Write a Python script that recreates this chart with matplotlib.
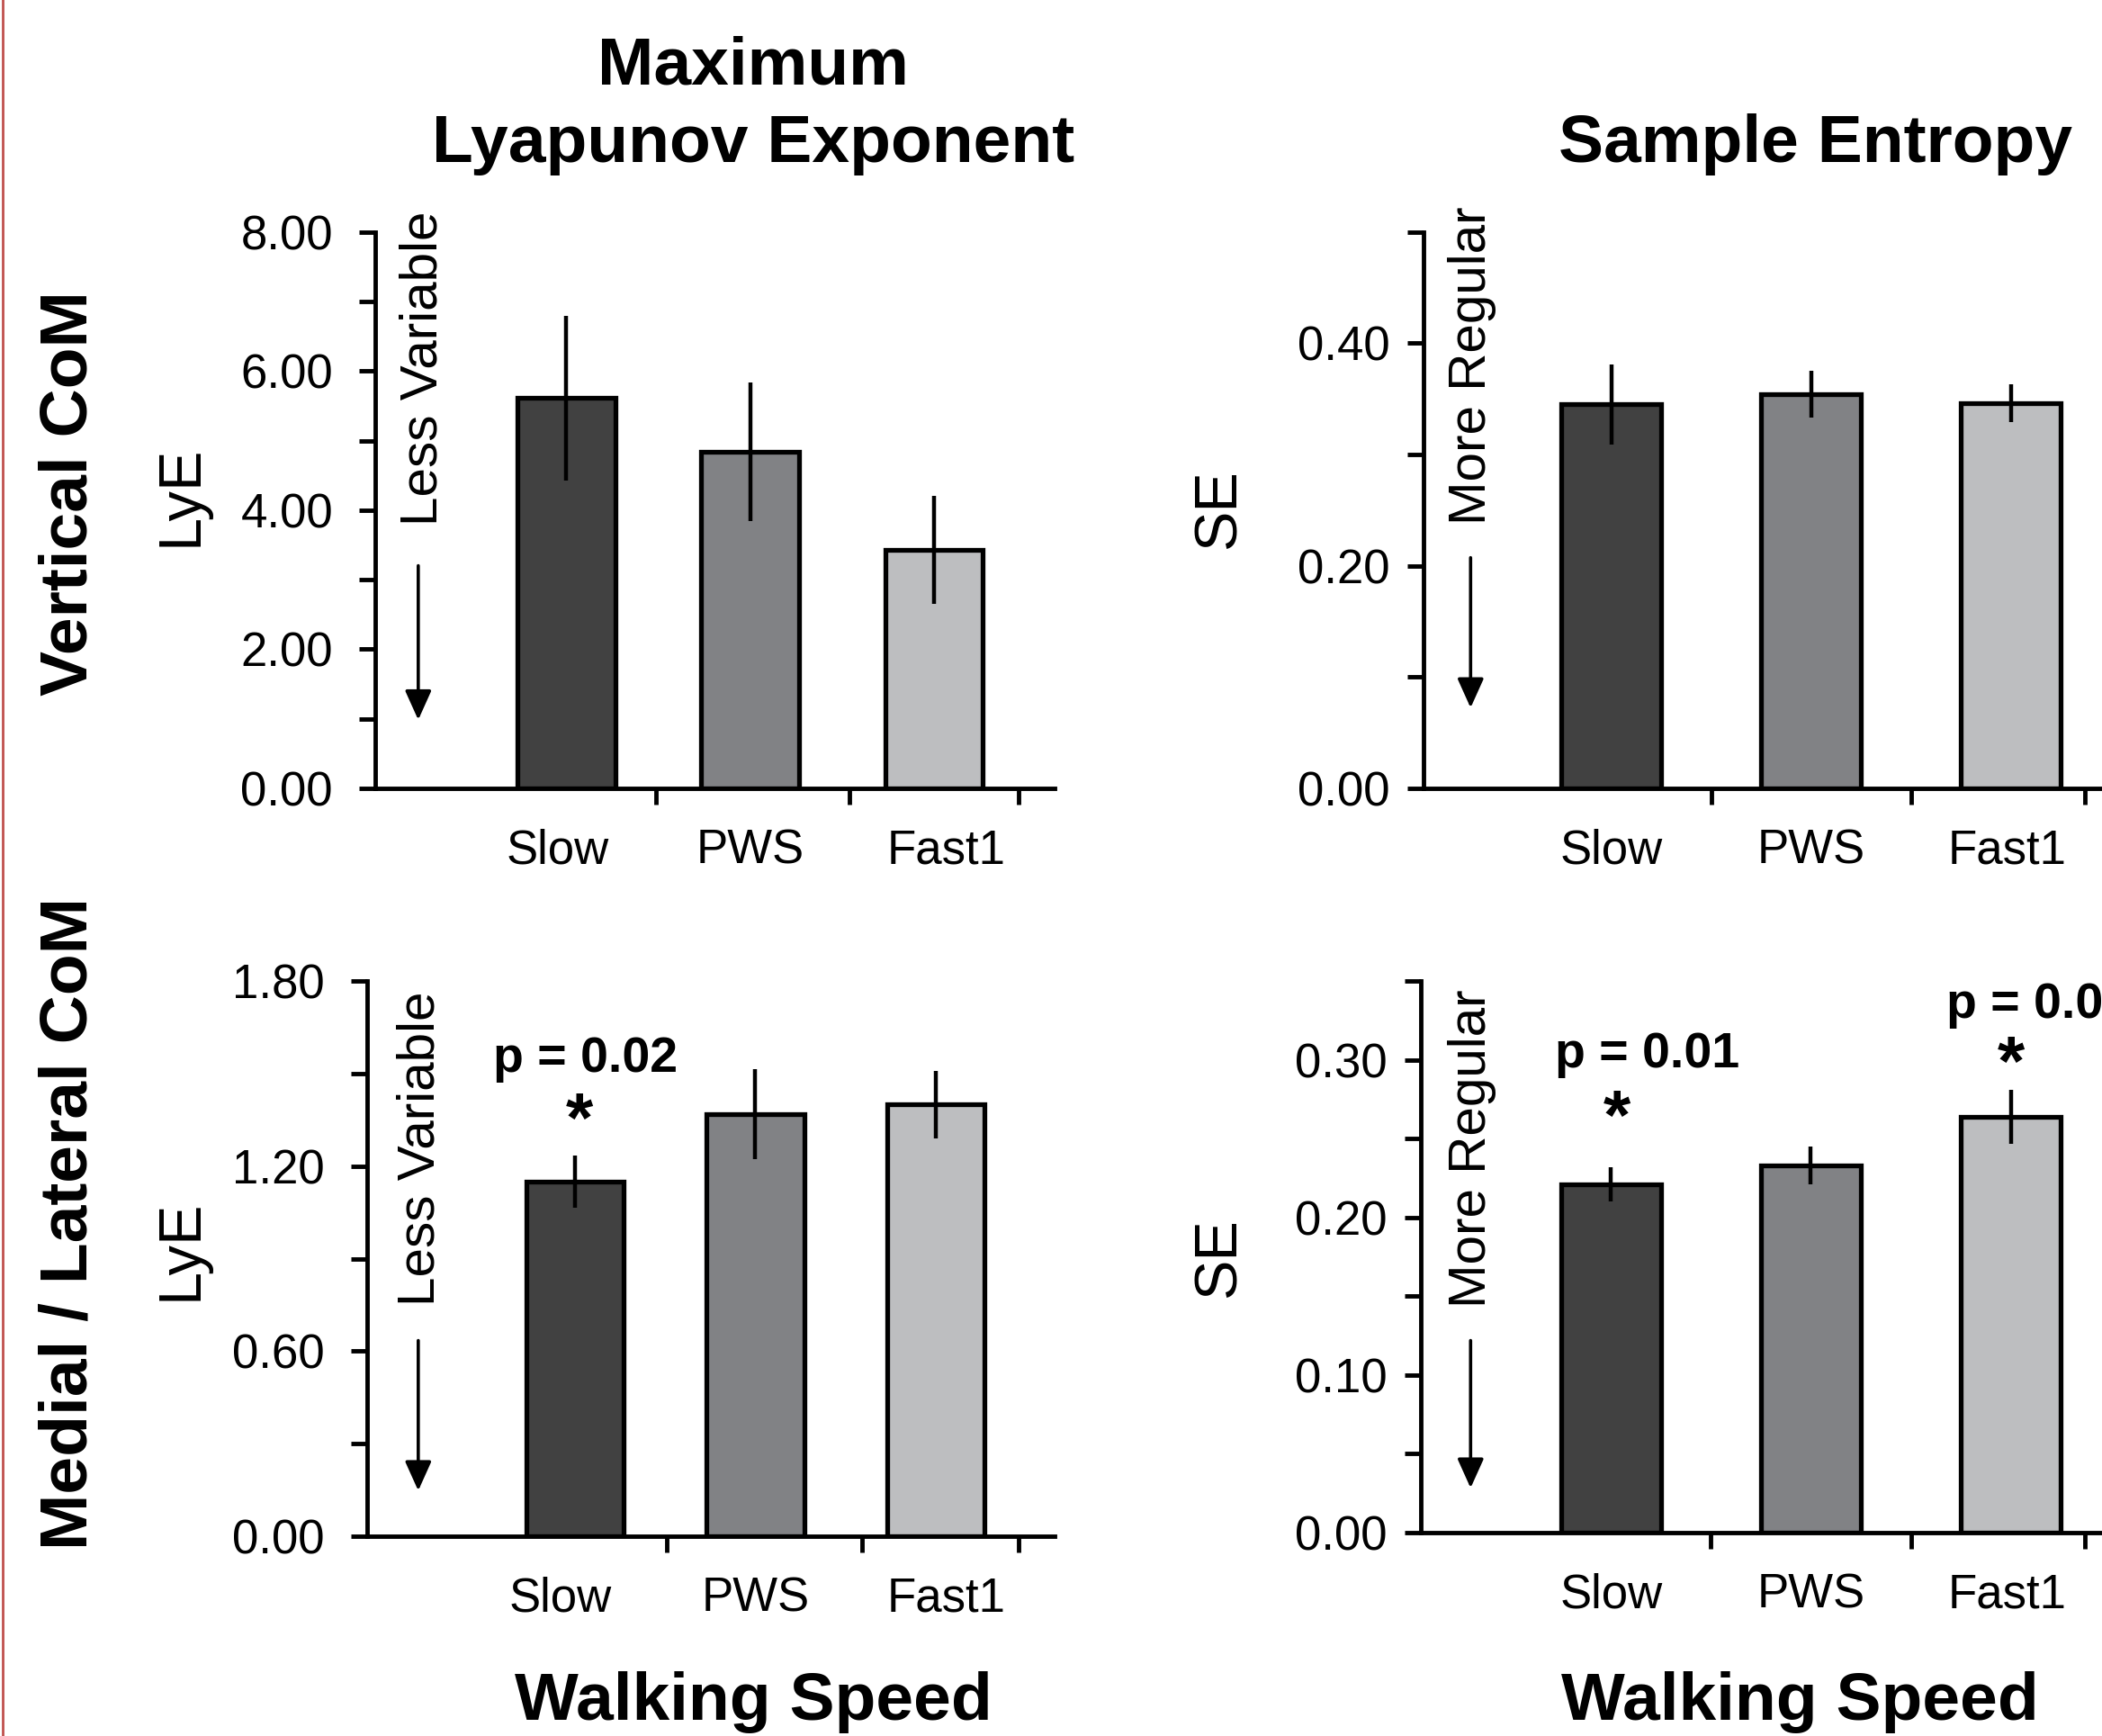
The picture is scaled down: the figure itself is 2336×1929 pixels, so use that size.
import matplotlib
matplotlib.use("Agg")
import matplotlib.pyplot as plt
from matplotlib.lines import Line2D
from matplotlib.patches import FancyArrowPatch
import numpy as np

plt.rcParams['font.family'] = ['Liberation Sans', 'DejaVu Sans']

speeds = ['Slow', 'PWS', 'Fast1']
bar_colors = ['#414141', '#818285', '#bdbec0']

# vertical CoM
lye_vert = [5.61, 4.84, 3.43]
lye_vert_err = [1.18, 1.00, 0.78]
se_vert = [0.345, 0.354, 0.346]
se_vert_err = [0.036, 0.021, 0.017]

# medial / lateral CoM
lye_ml = [1.15, 1.37, 1.40]
lye_ml_err = [0.085, 0.146, 0.11]
se_ml = [0.221, 0.233, 0.264]
se_ml_err = [0.011, 0.012, 0.017]

W, H = 1568.0, 1295.0   # layout measured on the shrunk reference


def fx(x):
    return x / W


def fy(y):
    return 1 - y / H


fig = plt.figure(figsize=(23.36, 19.29), dpi=100)


def panel(left, bottom, top, xlim, vals, errs, ylim, major, minor,
          edges, width, label_pos, right=787, ypad=21):
    x0, x1 = fx(left), fx(right)
    ax = fig.add_axes([x0, fy(bottom), x1 - x0, fy(top) - fy(bottom)])
    x = np.arange(len(vals))
    ax.bar(x, vals, width=width, color=bar_colors, edgecolor='black',
           linewidth=3.8, zorder=2)
    ax.errorbar(x, vals, yerr=errs, fmt='none', ecolor='black',
                elinewidth=3.2, capsize=0, zorder=3)
    ax.set_xlim(*xlim)
    ax.set_ylim(*ylim)
    ax.set_yticks(major)
    ax.set_yticklabels(['{:.2f}'.format(v) for v in major])
    ax.set_yticks(minor, minor=True)
    ax.set_xticks(label_pos)
    ax.set_xticklabels(speeds)
    ax.set_xticks(edges, minor=True)
    for s in ['top', 'right']:
        ax.spines[s].set_visible(False)
    for s in ['left', 'bottom']:
        ax.spines[s].set_linewidth(3.5)
    ax.tick_params(axis='y', which='both', direction='out', length=13,
                   width=3.5, labelsize=38, pad=ypad)
    ax.tick_params(axis='x', which='major', length=0, labelsize=38, pad=32)
    ax.tick_params(axis='x', which='minor', direction='out', length=13,
                   width=3.5)
    ax.patch.set_visible(False)
    return ax


panel(280, 588, 173, (-1.04, 2.66), lye_vert, lye_vert_err, (0, 8),
      [0, 2, 4, 6, 8], [1, 3, 5, 7], [0.49, 1.54, 2.46], 0.53,
      [-0.05, 1.0, 2.07])
panel(274, 1146, 732, (-1.15, 2.66), lye_ml, lye_ml_err, (0, 1.8),
      [0, 0.6, 1.2, 1.8], [0.3, 0.9, 1.5], [0.51, 1.59, 2.46], 0.54,
      [-0.08, 1.0, 2.06])
panel(1062, 588, 173, (-0.94, 2.55), se_vert, se_vert_err, (0, 0.5),
      [0, 0.2, 0.4], [0.1, 0.3, 0.5], [0.5, 1.5, 2.37], 0.5,
      [0.0, 1.0, 1.98], right=1582, ypad=14)
panel(1060, 1143, 732, (-0.95, 2.55), se_ml, se_ml_err, (0, 0.35),
      [0, 0.1, 0.2, 0.3], [0.05, 0.15, 0.25, 0.35], [0.5, 1.5, 2.37], 0.5,
      [0.0, 1.0, 1.98], right=1582, ypad=14)

# headings
bold = dict(fontsize=54, fontweight='bold', ha='center', va='center')
fig.text(fx(562), fy(50), 'Maximum', **bold)
fig.text(fx(562), fy(108), 'Lyapunov Exponent', **bold)
fig.text(fx(1354), fy(108), 'Sample Entropy', **bold)
fig.text(fx(52), fy(368), 'Vertical CoM', rotation=90, **bold)
fig.text(fx(52), fy(913), 'Medial / Lateral CoM', rotation=90, **bold)
fig.text(fx(562), fy(1270), 'Walking Speed', **bold)
fig.text(fx(1343), fy(1270), 'Walking Speed', **bold)

# axis labels
lab = dict(fontsize=48, ha='center', va='center', rotation=90)
fig.text(fx(135), fy(370), 'LyE', **lab)
fig.text(fx(135), fy(932), 'LyE', **lab)
fig.text(fx(910), fy(380), 'SE', **lab)
fig.text(fx(910), fy(938), 'SE', **lab)

# direction notes with arrows
note = dict(fontsize=42, ha='center', va='center', rotation=90)
fig.text(fx(316), fy(275), 'Less Variable', **note)
fig.text(fx(314), fy(857), 'Less Variable', **note)
fig.text(fx(1098), fy(273), 'More Regular', **note)
fig.text(fx(1098), fy(857), 'More Regular', **note)
for xa, ya, yb in [(312, 422, 537), (312, 1000, 1112),
                   (1097, 416, 528), (1097, 1000, 1110)]:
    fig.add_artist(FancyArrowPatch(
        (fx(xa), fy(ya)), (fx(xa), fy(yb)), transform=fig.transFigure,
        arrowstyle='-|>,head_length=1.0,head_width=0.45', mutation_scale=20,
        color='black', linewidth=2.6, shrinkA=0, shrinkB=0))

# significance marks
sig = dict(fontsize=40, fontweight='bold', va='center')
star = dict(fontsize=56, fontweight='bold', va='center', ha='center')
fig.text(fx(437), fy(790), 'p = 0.02', ha='center', **sig)
fig.text(fx(432), fy(838), '*', **star)
fig.text(fx(1229), fy(787), 'p = 0.01', ha='center', **sig)
fig.text(fx(1206), fy(836), '*', **star)
fig.text(fx(1452), fy(750), 'p = 0.03', ha='left', **sig)
fig.text(fx(1500), fy(796), '*', **star)

# thin red frame line on the left edge
fig.add_artist(Line2D([0.0012, 0.0012], [0, 1], transform=fig.transFigure,
                      color='#c0504d', linewidth=2))

fig.savefig('out.png', dpi=100)
